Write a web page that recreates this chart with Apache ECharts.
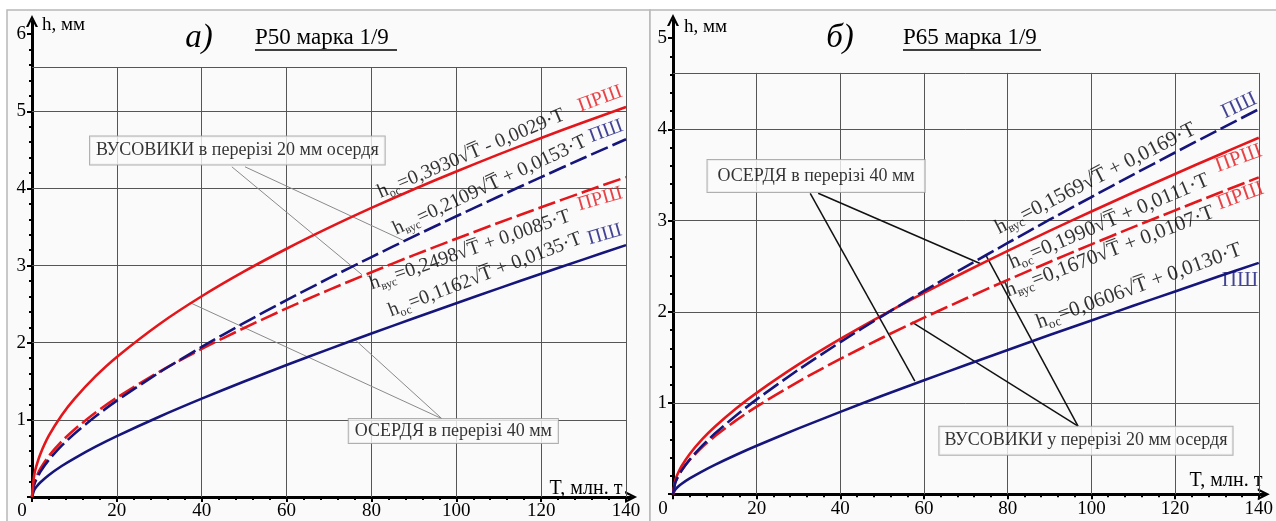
<!DOCTYPE html>
<html><head><meta charset="utf-8">
<script src="https://cdn.jsdelivr.net/npm/echarts@6/dist/echarts.min.js"></script>
<style>html,body{margin:0;padding:0;background:#fff}#c{width:1276px;height:521px}</style>
</head><body><div id="c"></div>
<script>
// ---------- DATA ----------
const T = [0,0.5,1,2,4,7,10,15,20,30,40,50,60,70,80,90,100,110,120,130,140];
// Panel а) Р50
const a_osPRSH  = [0,0.279,0.396,0.562,0.798,1.060,1.272,1.566,1.816,2.240,2.602,2.924,3.218,3.491,3.747,3.989,4.220,4.441,4.653,4.858,5.056];
const a_vusPSH  = [0,0.157,0.226,0.329,0.483,0.665,0.820,1.046,1.249,1.614,1.946,2.256,2.552,2.836,3.110,3.378,3.639,3.895,4.146,4.394,4.637];
const a_vusPRSH = [0,0.181,0.258,0.370,0.534,0.720,0.875,1.095,1.287,1.623,1.920,2.191,2.445,2.685,2.914,3.135,3.348,3.555,3.756,3.953,4.146];
const a_osPSH   = [0,0.089,0.130,0.191,0.286,0.402,0.502,0.653,0.790,1.041,1.275,1.497,1.710,1.917,2.119,2.317,2.512,2.704,2.893,3.080,3.265];
// Panel б) Р65
const b_vusPSH  = [0,0.119,0.174,0.256,0.381,0.533,0.665,0.861,1.040,1.366,1.668,1.954,2.229,2.496,2.755,3.010,3.259,3.505,3.747,3.986,4.222];
const b_osPRSH  = [0,0.146,0.210,0.304,0.442,0.604,0.740,0.937,1.112,1.423,1.703,1.962,2.207,2.442,2.668,2.887,3.100,3.308,3.512,3.712,3.909];
const b_vusPRSH = [0,0.124,0.178,0.258,0.377,0.517,0.635,0.807,0.961,1.236,1.484,1.716,1.936,2.146,2.350,2.547,2.740,2.929,3.113,3.295,3.474];
const b_osPSH   = [0,0.049,0.074,0.112,0.173,0.251,0.322,0.430,0.531,0.722,0.903,1.079,1.249,1.417,1.582,1.745,1.906,2.066,2.224,2.381,2.537];

// tick labels / tick positions
const xMajor = [0,20,40,60,80,100,120,140];
const xMinor = [4,8,12,16,24,28,32,36,44,48,52,56,64,68,72,76,84,88,92,96,104,108,112,116,124,128,132,136];
const yMajorA = [0,1,2,3,4,5,6];
const yLabelsA = [1,2,3,4,5,6];
const yMinorA = [0.2,0.4,0.6,0.8,1.2,1.4,1.6,1.8,2.2,2.4,2.6,2.8,3.2,3.4,3.6,3.8,4.2,4.4,4.6,4.8,5.2,5.4,5.6,5.8];
const yMajorB = [0,1,2,3,4,5];
const yLabelsB = [1,2,3,4,5];
const yMinorB = [0.2,0.4,0.6,0.8,1.2,1.4,1.6,1.8,2.2,2.4,2.6,2.8,3.2,3.4,3.6,3.8,4.2,4.4,4.6,4.8];
const gridHA = [1,2,3,4,5];
const gridHB = [1,2,3,4];
const gridTopA = 5.57, gridTopB = 4.62;

// ---------- STYLE / LAYOUT ----------
const FF = '"Liberation Serif","Times New Roman",serif';
const RED = '#e3161b', NAVY = '#15157c';
const ARROW = 'path://M0,12 L6,0 L12,12 L9.6,12 L6,4.6 L2.4,12 Z';
const XMAX = 141.2, YMAXA = 6.17, YMAXB = 5.2;

const pairs = arr => T.map((t,i)=>[t, arr[i]]);

function mainX(gi){ return {type:'value', gridIndex:gi, min:0, max:XMAX, position:'bottom',
  axisLine:{show:true,onZero:false,lineStyle:{color:'#000',width:3},symbol:['none',ARROW],symbolSize:[12,13]},
  axisTick:{show:true,customValues:xMajor,length:5,lineStyle:{color:'#000',width:2}},
  axisLabel:{show:true,customValues:xMajor,margin:5,fontSize:19,fontFamily:FF,color:'#000',
    formatter:v=> v===0?'{z|0}':String(v), rich:{z:{fontSize:19,fontFamily:FF,color:'#000',padding:[0,20,0,0]}}},
  splitLine:{show:false}};}
function minorX(gi){ return {type:'value', gridIndex:gi, min:0, max:XMAX, position:'bottom',
  axisLine:{show:false}, axisTick:{show:true,customValues:xMinor,length:3,lineStyle:{color:'#000',width:2}},
  axisLabel:{show:false}, splitLine:{show:false}};}
function mainY(gi,max,ticks,labels){ return {type:'value', gridIndex:gi, min:0, max:max, position:'left',
  axisLine:{show:true,onZero:false,lineStyle:{color:'#000',width:3},symbol:['none',ARROW],symbolSize:[12,13]},
  axisTick:{show:true,customValues:ticks,length:5,lineStyle:{color:'#000',width:2}},
  axisLabel:{show:true,customValues:labels,margin:6,fontSize:19,fontFamily:FF,color:'#000'},
  splitLine:{show:false}};}
function minorY(gi,max,ticks){ return {type:'value', gridIndex:gi, min:0, max:max, position:'left',
  axisLine:{show:false}, axisTick:{show:true,customValues:ticks,length:3,lineStyle:{color:'#000',width:2}},
  axisLabel:{show:false}, splitLine:{show:false}};}

function gridLines(ax, top, hs){
  const d = [];
  xMajor.slice(1).forEach(x=>d.push([{coord:[x,0]},{coord:[x,top]}]));
  hs.concat([top]).forEach(y=>d.push([{coord:[0,y]},{coord:[140,y]}]));
  return {type:'line', xAxisIndex:ax, yAxisIndex:ax, data:[], silent:true, z:1,
    markLine:{silent:true, animation:false, symbol:['none','none'], label:{show:false},
      lineStyle:{type:'solid',color:'#555555',width:1}, emphasis:{disabled:true}, data:d}};
}
function leaders(ax, segs, color, width){
  return {type:'line', xAxisIndex:ax, yAxisIndex:ax, data:[], silent:true, z:4,
    markLine:{silent:true, animation:false, symbol:['none','none'], label:{show:false},
      lineStyle:{type:'solid',color:color,width:width}, emphasis:{disabled:true},
      data:segs.map(s=>[{coord:s[0]},{coord:s[1]}])}};
}
function curve(ax, arr, color, dashed){
  return {type:'line', xAxisIndex:ax, yAxisIndex:ax, data:pairs(arr), showSymbol:false, symbol:'none',
    smooth:0.25, silent:true, z:5,
    lineStyle:{color:color,width:2.6,type:dashed?[18,5]:'solid'}};
}
function formulaRich(fs){ return {
  v:{fontFamily:FF,fontSize:fs,color:'#000',lineHeight:fs+4},
  s:{fontFamily:FF,fontSize:Math.round(fs*0.6),color:'#000',verticalAlign:'bottom'},
  r:{fontFamily:FF,fontSize:fs,color:RED,lineHeight:fs+4},
  b:{fontFamily:FF,fontSize:fs,color:NAVY,lineHeight:fs+4}
};}
function textLabels(ax, items, fs){
  return {type:'scatter', xAxisIndex:ax, yAxisIndex:ax, symbolSize:1, silent:true, z:7,
    itemStyle:{color:'rgba(0,0,0,0)'},
    label:{show:true, position:'inside', align:'center', verticalAlign:'middle', rich:formulaRich(fs)},
    data:items.map(o=>({value:[o.t,o.h], label:{formatter:o.txt, rotate:o.rot}}))};
}
function boxes(ax, items){
  return {type:'scatter', xAxisIndex:ax, yAxisIndex:ax, symbolSize:1, silent:true, z:8,
    itemStyle:{color:'rgba(0,0,0,0)'},
    label:{show:true, position:'inside', align:'center', verticalAlign:'middle', fontFamily:FF, fontSize:18,
      color:'#000', backgroundColor:'#fbfbfb', borderColor:'#9c9c9c', borderWidth:1},
    data:items.map(o=>({value:[o.t,o.h], label:{formatter:o.txt, padding:o.pad}}))};
}

// annotation texts
const labelsA = [
  {t:103.5,h:4.45,rot:23,txt:'{v|h}{s|ос}{v|=0,3930√T̅ - 0,0029·T}'},
  {t:107.9,h:4.04,rot:25,txt:'{v|h}{s|вус}{v|=0,2109√T̅ + 0,0153·T}'},
  {t:103.2,h:3.20,rot:19,txt:'{v|h}{s|вус}{v|=0,2498√T̅ + 0,0085·T}'},
  {t:106.8,h:2.88,rot:21,txt:'{v|h}{s|ос}{v|=0,1162√T̅ + 0,0135·T}'},
  {t:133.9,h:5.16,rot:20,txt:'{r|ПРШ}'},
  {t:135.3,h:4.74,rot:20,txt:'{b|ПШ}'},
  {t:133.9,h:3.86,rot:16,txt:'{r|ПРШ}'},
  {t:135.0,h:3.40,rot:16,txt:'{b|ПШ}'}
];
const labelsB = [
  {t:101.0,h:3.46,rot:27,txt:'{v|h}{s|вус}{v|=0,1569√T̅ + 0,0169·T}'},
  {t:104.2,h:2.99,rot:23,txt:'{v|h}{s|ос}{v|=0,1990√T̅ + 0,0111·T}'},
  {t:104.4,h:2.66,rot:21,txt:'{v|h}{s|вус}{v|=0,1670√T̅ + 0,0107·T}'},
  {t:111.4,h:2.28,rot:20,txt:'{v|h}{s|ос}{v|=0,0606√T̅ + 0,0130·T}'},
  {t:135.3,h:4.26,rot:25,txt:'{b|ПШ}'},
  {t:135.2,h:3.68,rot:20,txt:'{r|ПРШ}'},
  {t:135.6,h:3.27,rot:20,txt:'{r|ПРШ}'},
  {t:135.5,h:2.34,rot:0,txt:'{b|ПШ}'}
];
const boxesA = [
  {t:48.4,h:4.49,txt:'ВУСОВИКИ в перерізі 20 мм осердя',pad:[5,6]},
  {t:99.3,h:0.855,txt:'ОСЕРДЯ в перерізі 40 мм',pad:[3,6]}
];
const boxesB = [
  {t:34.2,h:3.49,txt:'ОСЕРДЯ в перерізі 40 мм',pad:[7,10]},
  {t:98.7,h:0.587,txt:'ВУСОВИКИ у перерізі 20 мм осердя',pad:[5,5]}
];
const leadA = [
  [[50.2,4.28],[87.4,3.33]], [[47.1,4.28],[77.8,2.88]],
  [[96.6,1.015],[76.1,2.04]], [[96.6,1.015],[37.2,2.52]]
];
const leadB = [
  [[32.8,3.30],[57.8,1.24]], [[34.7,3.30],[73.4,2.53]],
  [[96.8,0.746],[74.8,2.62]], [[96.8,0.746],[57.1,1.886]]
];

const chart = echarts.init(document.getElementById('c'));
chart.setOption({
  animation:false,
  backgroundColor:'#ffffff',
  grid:[
    {left:32, top:21, width:XMAX*4.243, height:YMAXA*77.8},
    {left:673, top:20, width:XMAX*4.236, height:YMAXB*91.2}
  ],
  xAxis:[mainX(0), minorX(0), mainX(1), minorX(1)],
  yAxis:[mainY(0,YMAXA,yMajorA,yLabelsA), minorY(0,YMAXA,yMinorA), mainY(1,YMAXB,yMajorB,yLabelsB), minorY(1,YMAXB,yMinorB)],
  graphic:[
    {type:'rect', z:-10, shape:{x:7,y:10,width:643,height:530}, style:{fill:'#fafafa',stroke:'#b8b8b8',lineWidth:1.5}},
    {type:'rect', z:-10, shape:{x:650,y:10,width:640,height:530}, style:{fill:'#fafafa',stroke:'#b8b8b8',lineWidth:1.5}},
    {type:'text', x:199, y:38, style:{text:'а)', font:'italic 33px '+FF, fill:'#000', align:'center', verticalAlign:'middle'}},
    {type:'text', x:255, y:38, style:{text:'Р50 марка 1/9', font:'23px '+FF, fill:'#000', align:'left', verticalAlign:'middle'}},
    {type:'line', shape:{x1:255,y1:50,x2:397,y2:50}, style:{stroke:'#000',lineWidth:1.3}},
    {type:'text', x:840, y:38, style:{text:'б)', font:'italic 33px '+FF, fill:'#000', align:'center', verticalAlign:'middle'}},
    {type:'text', x:903, y:38, style:{text:'Р65 марка 1/9', font:'23px '+FF, fill:'#000', align:'left', verticalAlign:'middle'}},
    {type:'line', shape:{x1:903,y1:50,x2:1041,y2:50}, style:{stroke:'#000',lineWidth:1.3}},
    {type:'text', x:42, y:25, style:{text:'h, мм', font:'19px '+FF, fill:'#000', align:'left', verticalAlign:'middle'}},
    {type:'text', x:684, y:27, style:{text:'h, мм', font:'19px '+FF, fill:'#000', align:'left', verticalAlign:'middle'}},
    {type:'text', x:586, y:489, style:{text:'T, млн. т', font:'20px '+FF, fill:'#000', align:'center', verticalAlign:'middle'}},
    {type:'text', x:1226, y:481, style:{text:'T, млн. т', font:'20px '+FF, fill:'#000', align:'center', verticalAlign:'middle'}}
  ],
  series:[
    gridLines(0, gridTopA, gridHA),
    gridLines(2, gridTopB, gridHB),
    curve(0, a_osPSH, NAVY, false),
    curve(0, a_vusPRSH, RED, true),
    curve(0, a_vusPSH, NAVY, true),
    curve(0, a_osPRSH, RED, false),
    curve(2, b_osPSH, NAVY, false),
    curve(2, b_vusPRSH, RED, true),
    curve(2, b_osPRSH, RED, false),
    curve(2, b_vusPSH, NAVY, true),
    leaders(0, leadA, '#8a8a8a', 1),
    leaders(2, leadB, '#111111', 1.5),
    textLabels(0, labelsA, 20),
    textLabels(2, labelsB, 21),
    boxes(0, boxesA),
    boxes(2, boxesB)
  ]
});
</script></body></html>
